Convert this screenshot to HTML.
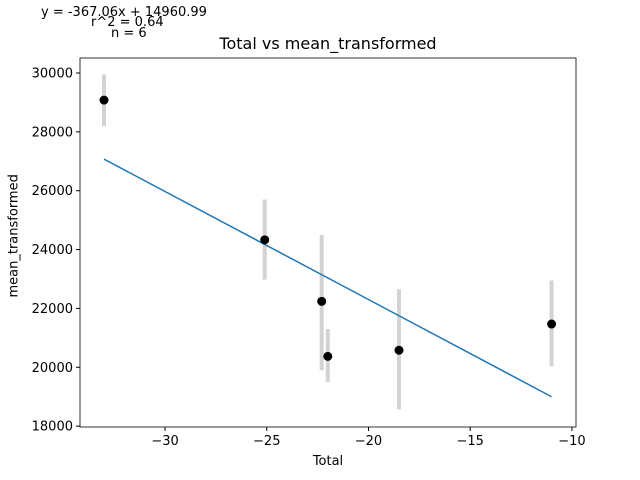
<!DOCTYPE html>
<html><head><meta charset="utf-8"><style>body{margin:0;background:#fff}svg{display:block;font-family:"DejaVu Sans","Liberation Sans",sans-serif}</style></head>
<body>
<svg id="c" width="640" height="480"></svg>
<script>
const xs=[-33.0,-25.1,-22.3,-22.0,-18.5,-11.0];
const ys=[29080,24330,22240,20370,20580,21470];
const errHi=[29950,25700,24500,21300,22650,22950];
const errLo=[28200,22980,19900,19500,18570,20030];
const slope=-367.06, intercept=14960.99;
const xTicks=[-30,-25,-20,-15,-10];
const yTicks=[18000,20000,22000,24000,26000,28000,30000];
const L=80,R=576,T=58,B=427,x0=-34.18,x1=-9.80,y0=17970,y1=30510;
const X=v=>L+(v-x0)/(x1-x0)*(R-L), Y=v=>B-(v-y0)/(y1-y0)*(B-T);
const s=document.getElementById('c');const NS='http://www.w3.org/2000/svg';
function el(t,a,txt){const e=document.createElementNS(NS,t);for(const k in a)e.setAttribute(k,a[k]);if(txt!=null)e.textContent=txt;s.appendChild(e);return e;}
xs.forEach((x,i)=>{const e=el('line',{x1:X(x),x2:X(x),y1:Y(errHi[i]),y2:Y(errLo[i]),stroke:'#d3d3d3','stroke-width':4});

});
const xmin=Math.min(...xs),xmax=Math.max(...xs);
const fl=el('line',{x1:X(xmin),y1:Y(slope*xmin+intercept),x2:X(xmax),y2:Y(slope*xmax+intercept),stroke:'#1f77b4','stroke-width':1.5});


xs.forEach((x,i)=>{const e=el('circle',{cx:X(x),cy:Y(ys[i]),r:4.5,fill:'#000'});

});
const fr=el('rect',{x:L,y:T,width:R-L,height:B-T,fill:'none',stroke:'#000','stroke-width':0.8});


xTicks.forEach(v=>{el('line',{x1:X(v),x2:X(v),y1:B,y2:B+4,stroke:'#000'});
const t=el('text',{x:X(v),y:B+18,'text-anchor':'middle','font-size':13},'\u2212'+Math.abs(v));

});
yTicks.forEach(v=>{el('line',{x1:L-4,x2:L,y1:Y(v),y2:Y(v),stroke:'#000'});
const t=el('text',{x:L-7,y:Y(v)+4.5,'text-anchor':'end','font-size':13},v);

});
</script>
<div style="position:absolute;left:0;top:0;width:640px;height:480px;font-family:'DejaVu Sans','Liberation Sans',sans-serif;pointer-events:none">
<div style="position:absolute;left:41px;top:5px;font-size:13px">y = -367.06x + 14960.99</div>
<div style="position:absolute;left:91px;top:15px;font-size:13px">r^2 = 0.64</div>
<div style="position:absolute;left:111px;top:26px;font-size:13px">n = 6</div>
<div style="position:absolute;left:0;width:656px;text-align:center;top:34px;font-size:16px">Total vs mean_transformed</div>
<div style="position:absolute;left:0;width:656px;text-align:center;top:454px;font-size:13px">Total</div>
<div style="position:absolute;left:-41px;top:235px;width:110px;text-align:center;font-size:13px;transform:rotate(-90deg)">mean_transformed</div>
</div>
</body></html>
